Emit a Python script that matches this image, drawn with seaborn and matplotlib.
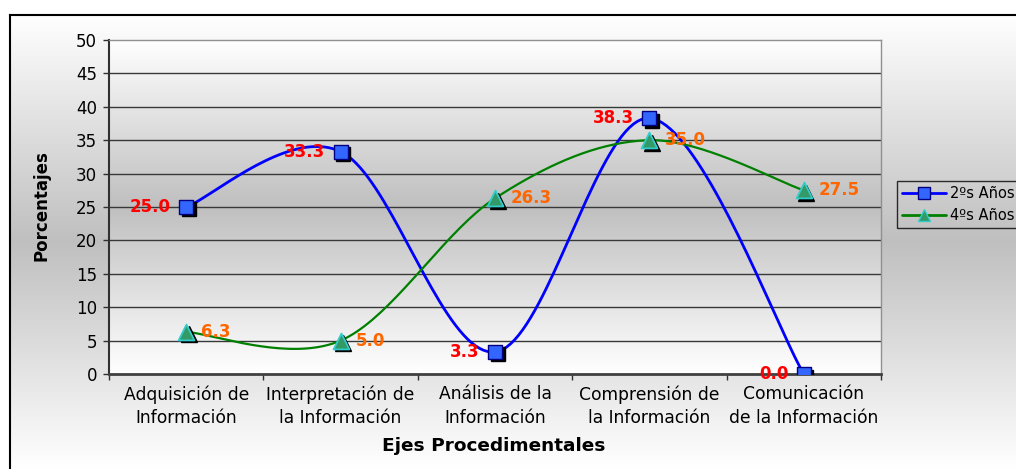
import numpy as np
import matplotlib
matplotlib.use("Agg")
import matplotlib.pyplot as plt
import seaborn as sns
from matplotlib.lines import Line2D
from matplotlib import transforms

# ---------------- data ----------------
categories = ["Adquisición de\nInformación",
              "Interpretación de\nla Información",
              "Análisis de la\nInformación",
              "Comprensión de\nla Información",
              "Comunicación\nde la Información"]
series_names = ["2ºs Años", "4ºs Años"]
values_2 = [25.0, 33.3, 3.3, 38.3, 0.0]
values_4 = [6.3, 5.0, 26.3, 35.0, 27.5]
y_ticks = [0, 5, 10, 15, 20, 25, 30, 35, 40, 45, 50]
y_label = "Porcentajes"
x_label = "Ejes Procedimentales"

sns.set_theme(style="white")
plt.rcParams["font.family"] = ["DejaVu Sans"]
plt.rcParams["text.color"] = "black"

W, H = 1016, 469
fig = plt.figure(figsize=(W / 100, H / 100), dpi=100)
fig.patch.set_facecolor("white")


def vgrad(n=256, c_end=1.0, c_mid=0.75):
    t = np.linspace(0, 1, n)
    g = np.where(t < 0.5, c_end + (c_mid - c_end) * t / 0.5,
                 c_mid + (c_end - c_mid) * (t - 0.5) / 0.5)
    return np.dstack([g, g, g]).reshape(n, 1, 3)


# chart-area background with border
bg = fig.add_axes([10 / W, 0, 1 - 10 / W, (H - 15) / H], zorder=-10)
bg.imshow(vgrad(), extent=[0, 1, 0, 1], aspect="auto", interpolation="bilinear")
bg.set_xlim(0, 1)
bg.set_ylim(0, 1)
bg.set_xticks([])
bg.set_yticks([])
for s in ["right", "bottom"]:
    bg.spines[s].set_visible(False)
for s in ["left", "top"]:
    bg.spines[s].set_color("black")
    bg.spines[s].set_linewidth(1.5)

# plot area
ax = fig.add_axes([109 / W, (H - 374) / H, 772 / W, 334 / H])
n = len(categories)
xs = np.arange(n)
ax.imshow(vgrad(c_mid=0.75), extent=[-0.5, n - 0.5, y_ticks[0], y_ticks[-1]],
          aspect="auto", interpolation="bilinear", zorder=0)
ax.set_xlim(-0.5, n - 0.5)
ax.set_ylim(y_ticks[0], y_ticks[-1])

for yv in y_ticks[1:-1]:
    ax.axhline(yv, color="#383838", lw=1.0, zorder=1)


def bezier_smooth(xv, yv, npts=40):
    P = np.column_stack([xv, yv]).astype(float)
    Pe = np.vstack([P[0], P, P[-1]])
    out = []
    t = np.linspace(0, 1, npts)[:, None]
    for i in range(len(P) - 1):
        p0, p3 = P[i], P[i + 1]
        c1 = p0 + (Pe[i + 2] - Pe[i]) / 6
        c2 = p3 - (Pe[i + 3] - Pe[i + 1]) / 6
        seg = (1 - t) ** 3 * p0 + 3 * (1 - t) ** 2 * t * c1 + 3 * (1 - t) * t ** 2 * c2 + t ** 3 * p3
        out.append(seg if i == 0 else seg[1:])
    return np.vstack(out)


blue, green = "#0000FF", "#008000"
c2 = bezier_smooth(xs, values_2)
c4 = bezier_smooth(xs, values_4)
ax.plot(c2[:, 0], c2[:, 1], color=blue, lw=2.0, zorder=3, solid_capstyle="round")
ax.plot(c4[:, 0], c4[:, 1], color=green, lw=1.6, zorder=3, solid_capstyle="round")

shadow = transforms.offset_copy(ax.transData, fig=fig, x=2.5, y=-2.5, units="dots")
ax.plot(xs, values_2, ls="none", marker="s", ms=10, color="black", transform=shadow, zorder=4)
ax.plot(xs, values_4, ls="none", marker="^", ms=11, color="black", transform=shadow, zorder=4)

sns.scatterplot(x=xs, y=values_2, marker="s", s=100, color="#3366FF",
                edgecolor="#000080", linewidth=1.0, ax=ax, zorder=5, legend=False)
sns.scatterplot(x=xs, y=values_4, marker="^", s=130, color="#339966",
                edgecolor="#33CCCC", linewidth=1.3, ax=ax, zorder=5, legend=False)

for x, v in zip(xs, values_2):
    ax.annotate(f"{v:.1f}", (x, v), xytext=(-11, 0), textcoords="offset points",
                ha="right", va="center", color="#FF0000", fontsize=12,
                fontweight="bold", zorder=6)
for x, v in zip(xs, values_4):
    ax.annotate(f"{v:.1f}", (x, v), xytext=(11, 0), textcoords="offset points",
                ha="left", va="center", color="#FF6600", fontsize=12,
                fontweight="bold", zorder=6)

# axes styling
ax.set_yticks(y_ticks)
ax.set_yticklabels([str(v) for v in y_ticks], fontsize=12, color="black")
ax.set_xticks(xs)
ax.set_xticklabels(categories, fontsize=12.3, color="black", linespacing=1.4)
ax.set_xticks(np.arange(-0.5, n, 1.0), minor=True)
ax.tick_params(axis="y", which="major", length=4.5, width=1, color="#303030",
               direction="out", pad=4, left=True)
ax.tick_params(axis="x", which="major", length=0, pad=8)
ax.tick_params(axis="x", which="minor", length=4.5, width=1, color="#303030",
               direction="out", bottom=True)
ax.spines["top"].set_color("#909090")
ax.spines["right"].set_color("#909090")
ax.spines["top"].set_linewidth(1.0)
ax.spines["right"].set_linewidth(1.0)
ax.spines["left"].set_color("#303030")
ax.spines["bottom"].set_color("#404040")
ax.spines["left"].set_linewidth(1.5)
ax.spines["bottom"].set_linewidth(2.0)

fig.text(42 / W, 1 - 206 / H, y_label, rotation=90, ha="center", va="center",
         fontsize=12, fontweight="bold", color="black")
fig.text(494 / W, 1 - 446 / H, x_label, ha="center", va="center",
         fontsize=13.3, fontweight="bold", color="black")

handles = [
    Line2D([], [], color=blue, lw=2, marker="s", ms=8, mfc="#3366FF", mec="#000080"),
    Line2D([], [], color=green, lw=2, marker="^", ms=9, mfc="#339966", mec="#33CCCC"),
]
leg = fig.legend(handles, series_names, loc="upper left",
                 bbox_to_anchor=(897 / W, 1 - 181 / H), bbox_transform=fig.transFigure,
                 fontsize=10.5, frameon=True, fancybox=False, handlelength=3.0,
                 handletextpad=0.3, borderpad=0.35, labelspacing=0.45,
                 borderaxespad=0, labelcolor="black")
leg.get_frame().set_edgecolor("black")
leg.get_frame().set_facecolor("none")
leg.get_frame().set_linewidth(1.0)

fig.savefig("out.png", dpi=100)
